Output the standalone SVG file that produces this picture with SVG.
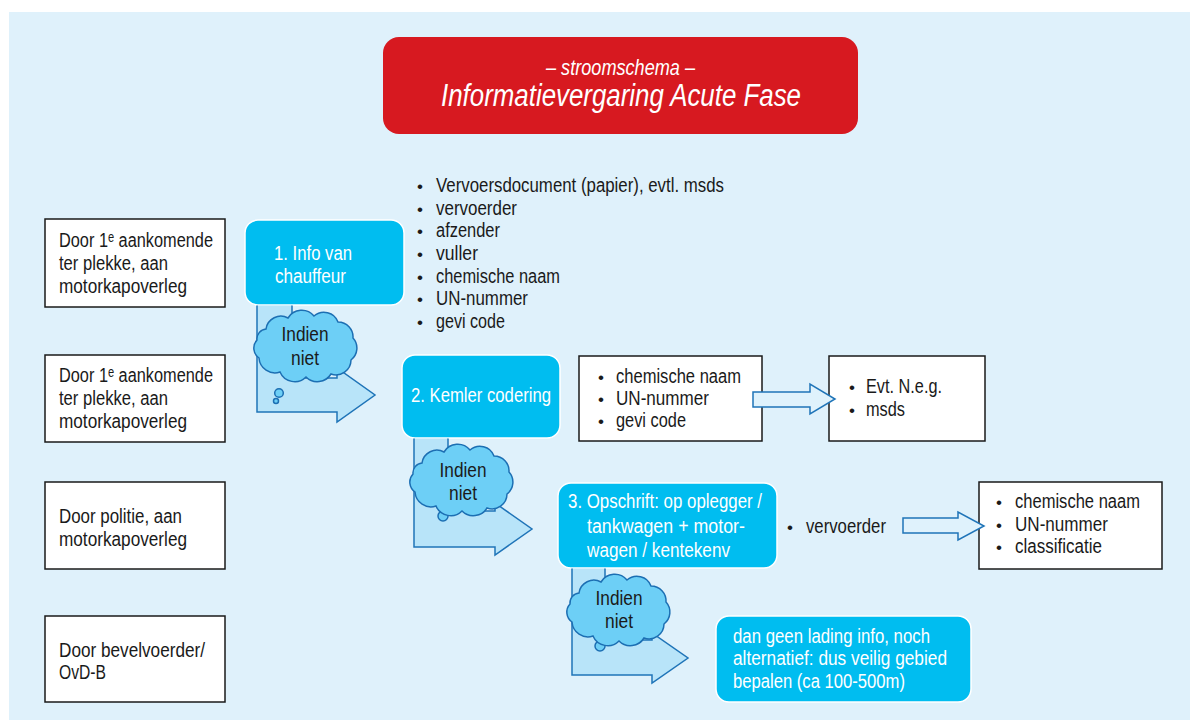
<svg xmlns="http://www.w3.org/2000/svg" xmlns:xlink="http://www.w3.org/1999/xlink" width="1190" height="720" viewBox="0 0 1190 720">
<style>
.t{font-family:"Liberation Sans","DejaVu Sans",Arial,sans-serif;font-size:20px;fill:#1a1a1a}
.w{fill:#ffffff}
.it{font-style:italic}
.b{font-family:"Liberation Sans",Arial,sans-serif;font-size:17px;fill:#1a1a1a;text-anchor:middle}
.box{fill:#ffffff;stroke:#1a1a1a;stroke-width:1.5}
.cyan{fill:#00bdf0;stroke:#ffffff;stroke-width:1.5}
.larrow{fill:#b8e4f9;stroke:#1f74b8;stroke-width:1.5}
.sarrow{fill:#dff2fc;stroke:#1f74b8;stroke-width:1.5}
.bub{fill:#6dcff6;stroke:#1c6fb3;stroke-width:1.5}
</style>
<defs>
<path id="cloud" fill="#6dcff6" stroke="#1c6fb3" stroke-width="1.5" d="M-40,-18 A15,15 0 0 1 -18,-29 A16,16 0 0 1 8,-31 A15,15 0 0 1 32,-25 A15,15 0 0 1 47,-9 A15,15 0 0 1 45,13 A15,15 0 0 1 25,27 A16,16 0 0 1 0,30 A16,16 0 0 1 -26,25 A16,16 0 0 1 -47,11 A12,12 0 0 1 -49,-7 A10,10 0 0 1 -40,-18 Z"/>
</defs>
<rect x="9" y="12" width="1181" height="708" fill="#dff1fb"/>

<g id="title">
<rect x="383" y="37" width="475" height="97" rx="16" fill="#d71920"/>
<text class="t w it" x="620.5" y="75" text-anchor="middle" textLength="149" lengthAdjust="spacingAndGlyphs" style="font-size:22px">– stroomschema –</text>
<text class="t w it" x="621" y="106" text-anchor="middle" textLength="360" lengthAdjust="spacingAndGlyphs" style="font-size:31px">Informatievergaring Acute Fase</text>
</g>

<g id="left-a">
<rect class="box" x="45" y="219" width="180" height="88"/>
<text class="t" x="59" y="247" textLength="154" lengthAdjust="spacingAndGlyphs">Door 1ᵉ aankomende</text>
<text class="t" x="59" y="270" textLength="109" lengthAdjust="spacingAndGlyphs">ter plekke, aan</text>
<text class="t" x="59" y="293" textLength="128" lengthAdjust="spacingAndGlyphs">motorkapoverleg</text>
</g>
<g id="left-b">
<rect class="box" x="45" y="355" width="180" height="87"/>
<text class="t" x="59" y="382" textLength="154" lengthAdjust="spacingAndGlyphs">Door 1ᵉ aankomende</text>
<text class="t" x="59" y="405" textLength="109" lengthAdjust="spacingAndGlyphs">ter plekke, aan</text>
<text class="t" x="59" y="428" textLength="128" lengthAdjust="spacingAndGlyphs">motorkapoverleg</text>
</g>
<g id="left-c">
<rect class="box" x="45" y="482" width="180" height="87"/>
<text class="t" x="59" y="523" textLength="123" lengthAdjust="spacingAndGlyphs">Door politie, aan</text>
<text class="t" x="59" y="546" textLength="128" lengthAdjust="spacingAndGlyphs">motorkapoverleg</text>
</g>
<g id="left-d">
<rect class="box" x="45" y="616" width="180" height="86"/>
<text class="t" x="59" y="657" textLength="146" lengthAdjust="spacingAndGlyphs">Door bevelvoerder/</text>
<text class="t" x="59" y="679" textLength="47" lengthAdjust="spacingAndGlyphs">OvD-B</text>
</g>

<g id="step1">
<rect class="cyan" x="245" y="220" width="159" height="85" rx="13"/>
<text class="t w" x="274" y="260" textLength="78" lengthAdjust="spacingAndGlyphs">1. Info van</text>
<text class="t w" x="275" y="283" textLength="71" lengthAdjust="spacingAndGlyphs">chauffeur</text>
</g>
<g id="list1">
<text class="b" x="420" y="192">•</text><text class="t" x="436" y="192" textLength="288" lengthAdjust="spacingAndGlyphs">Vervoersdocument (papier), evtl. msds</text>
<text class="b" x="420" y="215">•</text><text class="t" x="436" y="215" textLength="81" lengthAdjust="spacingAndGlyphs">vervoerder</text>
<text class="b" x="420" y="237">•</text><text class="t" x="436" y="237" textLength="64" lengthAdjust="spacingAndGlyphs">afzender</text>
<text class="b" x="420" y="260">•</text><text class="t" x="436" y="260" textLength="42" lengthAdjust="spacingAndGlyphs">vuller</text>
<text class="b" x="420" y="283">•</text><text class="t" x="436" y="283" textLength="124" lengthAdjust="spacingAndGlyphs">chemische naam</text>
<text class="b" x="420" y="305">•</text><text class="t" x="436" y="305" textLength="92" lengthAdjust="spacingAndGlyphs">UN-nummer</text>
<text class="b" x="420" y="328">•</text><text class="t" x="436" y="328" textLength="69" lengthAdjust="spacingAndGlyphs">gevi code</text>
</g>

<g id="step2">
<rect class="cyan" x="402" y="355" width="158" height="83" rx="13"/>
<text class="t w" x="411" y="402" textLength="140" lengthAdjust="spacingAndGlyphs">2. Kemler codering</text>
</g>
<g id="list2">
<rect class="box" x="579" y="356" width="183" height="85"/>
<text class="b" x="601" y="383">•</text><text class="t" x="616" y="383" textLength="125" lengthAdjust="spacingAndGlyphs">chemische naam</text>
<text class="b" x="601" y="405">•</text><text class="t" x="616" y="405" textLength="93" lengthAdjust="spacingAndGlyphs">UN-nummer</text>
<text class="b" x="601" y="427">•</text><text class="t" x="616" y="427" textLength="70" lengthAdjust="spacingAndGlyphs">gevi code</text>
</g>
<g id="list3">
<rect class="box" x="829" y="356" width="156" height="85"/>
<text class="b" x="852" y="393">•</text><text class="t" x="866" y="393" textLength="76" lengthAdjust="spacingAndGlyphs">Evt. N.e.g.</text>
<text class="b" x="852" y="416">•</text><text class="t" x="866" y="416" textLength="39" lengthAdjust="spacingAndGlyphs">msds</text>
</g>

<g id="step3">
<rect class="cyan" x="558" y="483" width="219" height="85" rx="13"/>
<text class="t w" x="568" y="508" textLength="194" lengthAdjust="spacingAndGlyphs">3. Opschrift: op oplegger /</text>
<text class="t w" x="587" y="533" textLength="158" lengthAdjust="spacingAndGlyphs">tankwagen + motor-</text>
<text class="t w" x="587" y="557" textLength="143" lengthAdjust="spacingAndGlyphs">wagen / kentekenv</text>
</g>
<g id="list4">
<text class="b" x="790" y="533">•</text><text class="t" x="806" y="533" textLength="80" lengthAdjust="spacingAndGlyphs">vervoerder</text>
</g>
<g id="list5">
<rect class="box" x="979" y="482" width="183" height="87"/>
<text class="b" x="999" y="508">•</text><text class="t" x="1015" y="508" textLength="125" lengthAdjust="spacingAndGlyphs">chemische naam</text>
<text class="b" x="999" y="531">•</text><text class="t" x="1015" y="531" textLength="93" lengthAdjust="spacingAndGlyphs">UN-nummer</text>
<text class="b" x="999" y="553">•</text><text class="t" x="1015" y="553" textLength="87" lengthAdjust="spacingAndGlyphs">classificatie</text>
</g>

<g id="step4">
<rect class="cyan" x="716" y="616" width="255" height="86" rx="13"/>
<text class="t w" x="733" y="643" textLength="197" lengthAdjust="spacingAndGlyphs">dan geen lading info, noch</text>
<text class="t w" x="733" y="665" textLength="214" lengthAdjust="spacingAndGlyphs">alternatief: dus veilig gebied</text>
<text class="t w" x="733" y="688" textLength="172" lengthAdjust="spacingAndGlyphs">bepalen (ca 100-500m)</text>
</g>

<g id="connectors">
<path class="larrow" d="M292,305.5 V378 H337 V368 L375,395 L337,422 V412 H257 V305.5"/>
<path class="larrow" d="M448,438.5 V511 H495 V503 L532,529 L495,555 V547 H414 V438.5"/>
<path class="larrow" d="M605,568.5 V640 H652 V633 L688,658 L652,683 V675 H572 V568.5"/>
<path class="sarrow" d="M753,392 H810 V384 L835,399 L810,414 V407 H753 Z"/>
<path class="sarrow" d="M903,518 H958 V512 L984,526 L958,540 V533 H903 Z"/>
</g>

<g id="cloud1">
<circle class="bub" cx="276" cy="401" r="2.5"/>
<circle class="bub" cx="279" cy="393" r="4.3"/>
<use xlink:href="#cloud" href="#cloud" transform="translate(306,347)"/>
<text class="t" x="305" y="341" text-anchor="middle" textLength="47" lengthAdjust="spacingAndGlyphs">Indien</text>
<text class="t" x="305" y="365" text-anchor="middle" textLength="28" lengthAdjust="spacingAndGlyphs">niet</text>
</g>
<g id="cloud2">
<circle class="bub" cx="443" cy="516" r="5"/>
<use xlink:href="#cloud" href="#cloud" transform="translate(462,481)"/>
<text class="t" x="463" y="477" text-anchor="middle" textLength="47" lengthAdjust="spacingAndGlyphs">Indien</text>
<text class="t" x="463" y="500" text-anchor="middle" textLength="28" lengthAdjust="spacingAndGlyphs">niet</text>
</g>
<g id="cloud3">
<circle class="bub" cx="600" cy="646" r="5"/>
<use xlink:href="#cloud" href="#cloud" transform="translate(619,611)"/>
<text class="t" x="619" y="605" text-anchor="middle" textLength="47" lengthAdjust="spacingAndGlyphs">Indien</text>
<text class="t" x="619" y="628" text-anchor="middle" textLength="28" lengthAdjust="spacingAndGlyphs">niet</text>
</g>
</svg>
